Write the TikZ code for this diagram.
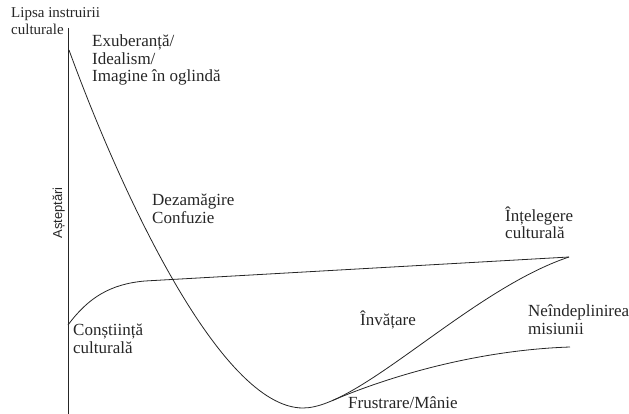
\documentclass[tikz,border=0pt]{standalone}
\usepackage{fontspec}
\setmainfont{Liberation Serif}
\setsansfont{Liberation Sans}
\usepackage{tikz}
\usetikzlibrary{positioning}

\begin{document}
\begin{tikzpicture}[
    x=1pt, y=-1pt,
    curve/.style={draw=black!85, line width=0.8pt},
    note/.style={anchor=base west, inner sep=0pt, align=left, text=black!85,
      font=\fontsize{17}{17.5}\selectfont}
  ]

  \useasboundingbox (0,0) rectangle (629,414);

  \coordinate (axistop) at (68,28);
  \coordinate (axisbot) at (68,414);
  \coordinate (start) at (69,50);
  \coordinate (low) at (303,408);
  \coordinate (apex) at (569,257);
  \coordinate (aware) at (68,325);
  \coordinate (bend) at (145,281);
  \coordinate (fail) at (570,347);

  \draw[curve] (axistop) -- (axisbot);

  \draw[curve] (start) .. controls (120,190) and (220,408) .. (low)
    .. controls (360,408) and (470,290) .. (apex)
    coordinate[pos=0.15] (split);

  \draw[curve] (split) .. controls (392,375) and (480,350) .. (fail);

  \draw[curve] (aware) .. controls (88,298) and (110,284) .. (bend) -- (apex);

  \node[note, font=\fontsize{15}{17}\selectfont] (lipsa) at (11,35) {Lipsa instruirii\\culturale};
  \node[note] (exub) at (92,82) {Exuberanță/\\Idealism/\\Imagine în oglindă};
  \node[note] (dezam) at (152,223) {Dezamăgire\\Confuzie};
  \node[note] (intel) at (505,239) {Înțelegere\\culturală};
  \node[note] (invat) at (360,325) {Învățare};
  \node[note] (neind) at (528,334) {Neîndeplinirea\\misiunii};
  \node[note] (constr) at (73,353) {Conștiință\\culturală};
  \node[note] (frust) at (348,408) {Frustrare/Mânie};
  \node[rotate=90, anchor=base, inner sep=0pt, text=black!85,
    font=\sffamily\fontsize{13}{13}\selectfont] (astept) at (62,213) {Așteptări};

\end{tikzpicture}
\end{document}
